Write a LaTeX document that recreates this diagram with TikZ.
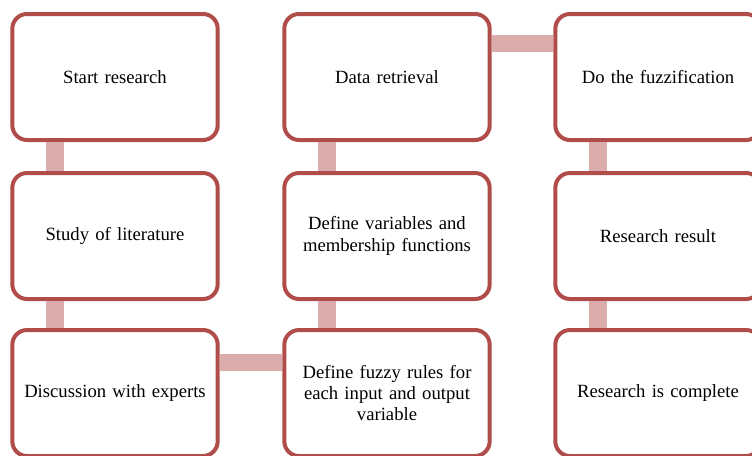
\documentclass[tikz,border=0pt]{standalone}
\usepackage{fontspec}
\setmainfont{Liberation Serif}
\definecolor{boxborder}{RGB}{176,76,73}
\definecolor{linkpink}{RGB}{219,172,172}
\begin{document}
\begin{tikzpicture}[x=0.75pt,y=-0.75pt,
  stepbox/.style={draw=boxborder, line width=3pt, fill=white, rounded corners=11pt,
    minimum width=153pt, minimum height=94.5pt, align=center, inner sep=2pt,
    font=\fontsize{14}{16}\selectfont, text width=150pt},
  link/.style={draw=linkpink, line width=13pt}]
\useasboundingbox (0,0) rectangle (752,455);
\clip (0,0) rectangle (752,455);
\path (115,77) coordinate (p11) (387,77) coordinate (p21) (658,77) coordinate (p31)
      (115,236) coordinate (p12) (387,236) coordinate (p22) (658,236) coordinate (p32)
      (115,393) coordinate (p13) (387,393) coordinate (p23) (658,393) coordinate (p33);
\node[stepbox] (n11) at (p11) {Start research};
\node[stepbox] (n12) at (p12) {Study of literature};
\node[stepbox] (n13) at (p13) {Discussion with experts};
\node[stepbox] (n21) at (p21) {Data retrieval};
\node[stepbox] (n22) at (p22) {Define variables and\\membership functions};
\node[stepbox] (n23) at (p23) {Define fuzzy rules for\\each input and output\\variable};
\node[stepbox] (n31) at (p31) {Do the fuzzification};
\node[stepbox] (n32) at (p32) {Research result};
\node[stepbox] (n33) at (p33) {Research is complete};
\draw[link] ([xshift=-45pt]n11.south) -- ([xshift=-45pt]n12.north);
\draw[link] ([xshift=-45pt]n12.south) -- ([xshift=-45pt]n13.north);
\draw[link] ([xshift=-45pt]n23.north) -- ([xshift=-45pt]n22.south);
\draw[link] ([xshift=-45pt]n22.north) -- ([xshift=-45pt]n21.south);
\draw[link] ([yshift=25pt]n21.east) -- ([yshift=25pt]n31.west);
\draw[link] ([xshift=-45pt]n31.south) -- ([xshift=-45pt]n32.north);
\draw[link] ([xshift=-45pt]n32.south) -- ([xshift=-45pt]n33.north);
\draw[link] ([yshift=23pt]n13.east) -- ([yshift=23pt]n23.west);
\end{tikzpicture}
\end{document}
